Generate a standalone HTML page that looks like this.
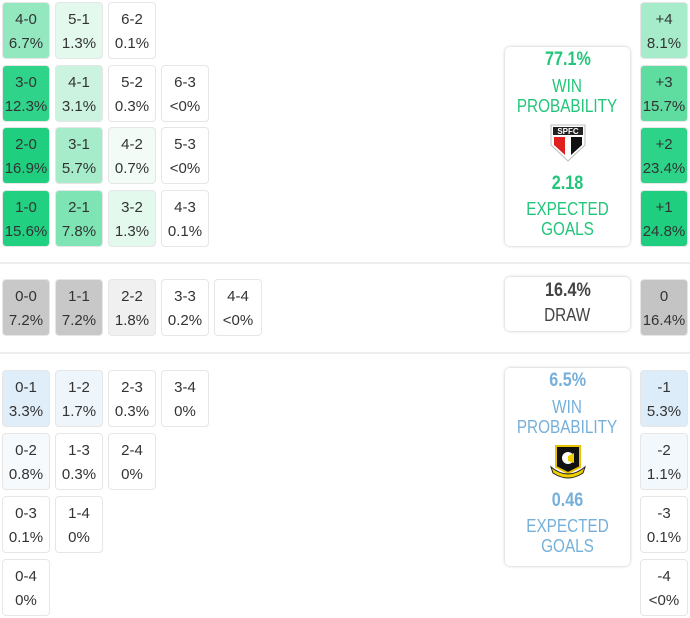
<!DOCTYPE html>
<html><head><meta charset="utf-8"><style>
body{margin:0;width:690px;height:618px;background:#fff;position:relative;overflow:hidden;font-family:"Liberation Sans Narrow","Liberation Sans",sans-serif;color:#333}
.c{position:absolute;width:46px;border:1px solid #e6e6e6;border-radius:4px;box-sizing:content-box;text-align:center;font-size:15px;line-height:24px;padding-top:5px;height:50px}
.b{position:absolute;left:505px;width:125px;border-radius:5px;box-shadow:0 0 3px rgba(0,0,0,.25);text-align:center;font-size:18px;line-height:20px}
.n{display:inline-block;transform:scaleX(.85)}
.sep{position:absolute;left:0;width:690px;height:2px;background:#eee}
.bold{font-weight:bold;font-size:19px}
</style></head><body>
<div class="c" style="left:2px;top:2px;background:#93e8c0">4-0<br>6.7%</div>
<div class="c" style="left:55px;top:2px;background:#e3f9ee">5-1<br>1.3%</div>
<div class="c" style="left:108px;top:2px;background:#fff">6-2<br>0.1%</div>
<div class="c" style="left:2px;top:65px;background:#2fd38a">3-0<br>12.3%</div>
<div class="c" style="left:55px;top:65px;background:#cbf3df">4-1<br>3.1%</div>
<div class="c" style="left:108px;top:65px;background:#fff">5-2<br>0.3%</div>
<div class="c" style="left:161px;top:65px;background:#fff">6-3<br>&lt;0%</div>
<div class="c" style="left:2px;top:127px;background:#1fcf7f">2-0<br>16.9%</div>
<div class="c" style="left:55px;top:127px;background:#a6ecca">3-1<br>5.7%</div>
<div class="c" style="left:108px;top:127px;background:#f2fbf6">4-2<br>0.7%</div>
<div class="c" style="left:161px;top:127px;background:#fff">5-3<br>&lt;0%</div>
<div class="c" style="left:2px;top:190px;background:#22d081">1-0<br>15.6%</div>
<div class="c" style="left:55px;top:190px;background:#7fe4b4">2-1<br>7.8%</div>
<div class="c" style="left:108px;top:190px;background:#e3f9ee">3-2<br>1.3%</div>
<div class="c" style="left:161px;top:190px;background:#fff">4-3<br>0.1%</div>
<div class="sep" style="top:262px"></div>
<div class="c" style="left:2px;top:279px;background:#c8c8c8">0-0<br>7.2%</div>
<div class="c" style="left:55px;top:279px;background:#c8c8c8">1-1<br>7.2%</div>
<div class="c" style="left:108px;top:279px;background:#f0f0f0">2-2<br>1.8%</div>
<div class="c" style="left:161px;top:279px;background:#fff">3-3<br>0.2%</div>
<div class="c" style="left:214px;top:279px;background:#fff">4-4<br>&lt;0%</div>
<div class="sep" style="top:352px"></div>
<div class="c" style="left:2px;top:370px;background:#e0eef9">0-1<br>3.3%</div>
<div class="c" style="left:55px;top:370px;background:#eef5fb">1-2<br>1.7%</div>
<div class="c" style="left:108px;top:370px;background:#fff">2-3<br>0.3%</div>
<div class="c" style="left:161px;top:370px;background:#fff">3-4<br>0%</div>
<div class="c" style="left:2px;top:433px;background:#f6fafd">0-2<br>0.8%</div>
<div class="c" style="left:55px;top:433px;background:#fff">1-3<br>0.3%</div>
<div class="c" style="left:108px;top:433px;background:#fff">2-4<br>0%</div>
<div class="c" style="left:2px;top:496px;background:#fff">0-3<br>0.1%</div>
<div class="c" style="left:55px;top:496px;background:#fff">1-4<br>0%</div>
<div class="c" style="left:2px;top:559px;background:#fff">0-4<br>0%</div>
<div class="c" style="left:640px;top:2px;background:#a6ecca">+4<br>8.1%</div>
<div class="c" style="left:640px;top:65px;background:#5fdca0">+3<br>15.7%</div>
<div class="c" style="left:640px;top:127px;background:#2cd388">+2<br>23.4%</div>
<div class="c" style="left:640px;top:190px;background:#1fcf7f">+1<br>24.8%</div>
<div class="c" style="left:640px;top:279px;background:#c4c4c4">0<br>16.4%</div>
<div class="c" style="left:640px;top:370px;background:#dcecf9">-1<br>5.3%</div>
<div class="c" style="left:640px;top:433px;background:#f3f8fc">-2<br>1.1%</div>
<div class="c" style="left:640px;top:496px;background:#fff">-3<br>0.1%</div>
<div class="c" style="left:640px;top:559px;background:#fff">-4<br>&lt;0%</div>
<div class="b" style="top:47px;height:199px;color:#22c57a">
<div class="bold" style="margin-top:3px"><span class="n">77.1%</span></div>
<div style="margin-top:6px"><span class="n">WIN<br>PROBABILITY</span></div>
<svg width="40" height="40" viewBox="0 0 40 40" style="margin-top:7px"><path d="M3 2H37V22L20 38L3 22Z" fill="#fff" stroke="#bbb"/><rect x="5" y="4" width="30" height="8" fill="#222"/><text x="20" y="11" font-size="8" font-weight="bold" fill="#fff" text-anchor="middle" font-family="Liberation Sans">SPFC</text><path d="M6 14H17V32L6 22Z" fill="#e02020"/><path d="M23 14H34V22L23 32Z" fill="#111"/></svg>
<div class="bold" style="margin-top:7px"><span class="n">2.18</span></div>
<div style="margin-top:5px"><span class="n">EXPECTED<br>GOALS</span></div>
</div>
<div class="b" style="top:277px;height:54px;color:#444">
<div class="bold" style="margin-top:4px"><span class="n">16.4%</span></div>
<div style="margin-top:4px"><span class="n">DRAW</span></div>
</div>
<div class="b" style="top:368px;height:198px;color:#76b0da">
<div class="bold" style="margin-top:3px"><span class="n">6.5%</span></div>
<div style="margin-top:6px"><span class="n">WIN<br>PROBABILITY</span></div>
<svg width="40" height="40" viewBox="0 0 40 40" style="margin-top:6px"><path d="M8 3H32V24L20 30L8 24Z" fill="#111" stroke="#e6c200" stroke-width="2"/><circle cx="20" cy="15" r="6" fill="#fff"/><path d="M20 13L26 10V20L20 18Z" fill="#f0d000"/><path d="M3 24Q20 38 37 24L35 30Q20 40 5 30Z" fill="#f0d000" stroke="#222"/></svg>
<div class="bold" style="margin-top:4px"><span class="n">0.46</span></div>
<div style="margin-top:5px"><span class="n">EXPECTED<br>GOALS</span></div>
</div>
</body></html>
